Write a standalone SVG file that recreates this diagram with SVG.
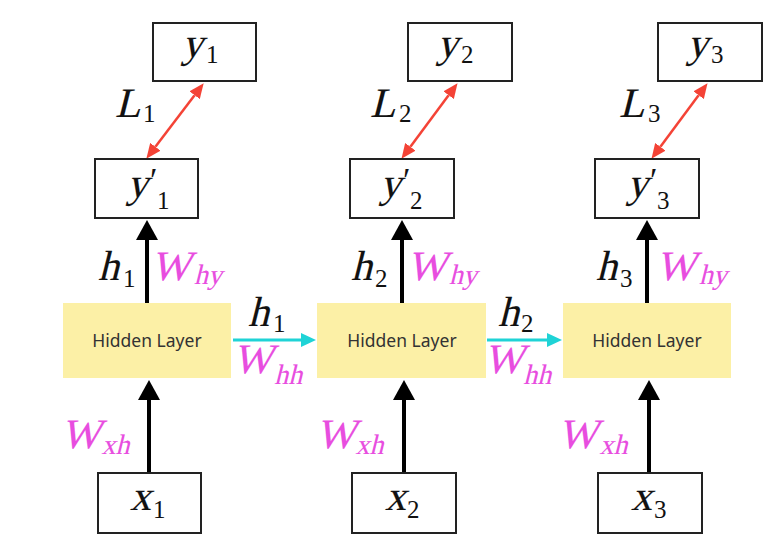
<svg xmlns="http://www.w3.org/2000/svg" width="773" height="551" viewBox="0 0 773 551">
<style>
.box{fill:#fff;stroke:#222;stroke-width:2}
.hid{fill:#fcf0a6}
.ht{font-family:"Noto Sans",sans-serif;font-size:17.5px;fill:#333;text-anchor:middle}
.m{font-family:"Liberation Serif",serif;font-size:42px;fill:#111;stroke:#111;stroke-width:0.15}
.d{font-family:"Liberation Serif",serif;font-size:25px;fill:#111}
.s{font-family:"Liberation Serif",serif;font-size:28px;stroke-width:0.1}
.pr{font-family:"Liberation Serif",serif;font-size:34px;fill:#111}
.pk{fill:#e84ddf;stroke:#e84ddf}
.blk{stroke:#000;stroke-width:4;fill:none;marker-end:url(#hb)}
.cy{stroke:#1fd3d6;stroke-width:3;fill:none;marker-end:url(#hc)}
.rd{stroke:#f44336;stroke-width:2.5;fill:none;marker-start:url(#hr);marker-end:url(#hr)}
</style>
<defs>
<marker id="hb" markerUnits="userSpaceOnUse" markerWidth="20" markerHeight="22" viewBox="0 0 20 22" refX="0" refY="11" orient="auto"><path d="M0,0 L20,11 L0,22 z" fill="#000"/></marker>
<marker id="hc" markerUnits="userSpaceOnUse" markerWidth="15" markerHeight="14" viewBox="0 0 15 14" refX="0" refY="7" orient="auto"><path d="M0,0 L15,7 L0,14 z" fill="#1fd3d6"/></marker>
<marker id="hr" markerUnits="userSpaceOnUse" markerWidth="15" markerHeight="13" viewBox="0 0 15 13" refX="0" refY="6.5" orient="auto-start-reverse"><path d="M0,0 L15,6.5 L0,13 z" fill="#f44336"/></marker>
</defs>

<g id="connectors">
<line class="blk" x1="147" y1="303" x2="147" y2="240"/>
<line class="blk" x1="149" y1="473" x2="149" y2="400"/>
<line class="blk" x1="402" y1="303" x2="402" y2="240"/>
<line class="blk" x1="404" y1="473" x2="404" y2="400"/>
<line class="blk" x1="647" y1="303" x2="647" y2="240"/>
<line class="blk" x1="649" y1="473" x2="649" y2="400"/>
<line class="cy" x1="233" y1="340" x2="301" y2="340"/>
<line class="cy" x1="487" y1="340" x2="547" y2="340"/>
<line class="rd" x1="194.6" y1="95.2" x2="155.4" y2="146.8"/>
<line class="rd" x1="448.6" y1="95.2" x2="410.4" y2="146.8"/>
<line class="rd" x1="698.6" y1="95.2" x2="660.4" y2="146.8"/>
</g>

<g id="y1"><rect class="box" x="153" y="23" width="103" height="58"/><g transform="translate(182,57) skewX(-14)"><text class="m">y</text></g><text class="d" x="206" y="63">1</text></g>
<g id="y2"><rect class="box" x="408" y="23" width="104" height="58"/><g transform="translate(437,57) skewX(-14)"><text class="m">y</text></g><text class="d" x="461" y="63">2</text></g>
<g id="y3"><rect class="box" x="658" y="23" width="104" height="58"/><g transform="translate(687,57) skewX(-14)"><text class="m">y</text></g><text class="d" x="711" y="63">3</text></g>

<g id="yp1"><rect class="box" x="95" y="159" width="103" height="59"/><g transform="translate(127,197) skewX(-14)"><text class="m">y</text></g><text class="pr" x="150" y="191">′</text><text class="d" x="157" y="209">1</text></g>
<g id="yp2"><rect class="box" x="350" y="159" width="104" height="59"/><g transform="translate(380,197) skewX(-14)"><text class="m">y</text></g><text class="pr" x="403" y="191">′</text><text class="d" x="410" y="209">2</text></g>
<g id="yp3"><rect class="box" x="595" y="159" width="104" height="59"/><g transform="translate(627,197) skewX(-14)"><text class="m">y</text></g><text class="pr" x="650" y="191">′</text><text class="d" x="657" y="209">3</text></g>

<g id="L1"><g transform="translate(115,117) skewX(-14)"><text class="m">L</text></g><text class="d" x="143" y="122">1</text></g>
<g id="L2"><g transform="translate(370,117) skewX(-14)"><text class="m">L</text></g><text class="d" x="399" y="122">2</text></g>
<g id="L3"><g transform="translate(619,117) skewX(-14)"><text class="m">L</text></g><text class="d" x="648" y="122">3</text></g>

<g id="h1"><rect class="hid" x="63" y="303" width="168" height="75"/><text class="ht" x="147" y="347">Hidden Layer</text></g>
<g id="h2"><rect class="hid" x="317" y="303" width="169" height="75"/><text class="ht" x="402" y="347">Hidden Layer</text></g>
<g id="h3"><rect class="hid" x="563" y="303" width="168" height="75"/><text class="ht" x="647" y="347">Hidden Layer</text></g>

<g id="x1"><rect class="box" x="98" y="473" width="103" height="60"/><g transform="translate(130,510) skewX(-14)"><text class="m">x</text></g><text class="d" x="153" y="518">1</text></g>
<g id="x2"><rect class="box" x="352" y="473" width="104" height="60"/><g transform="translate(385,510) skewX(-14)"><text class="m">x</text></g><text class="d" x="407" y="518">2</text></g>
<g id="x3"><rect class="box" x="598" y="473" width="104" height="60"/><g transform="translate(631,510) skewX(-14)"><text class="m">x</text></g><text class="d" x="654" y="518">3</text></g>

<g id="labels">
<g transform="translate(98,280) skewX(-14)"><text class="m">h</text></g><text class="d" x="123" y="287">1</text>
<g transform="translate(351,280) skewX(-14)"><text class="m">h</text></g><text class="d" x="375" y="287">2</text>
<g transform="translate(596,280) skewX(-14)"><text class="m">h</text></g><text class="d" x="620" y="287">3</text>
<g transform="translate(151,280) skewX(-14)"><text class="m pk">W</text><text class="s pk" x="44" y="4">hy</text></g>
<g transform="translate(407,280) skewX(-14)"><text class="m pk">W</text><text class="s pk" x="43" y="4">hy</text></g>
<g transform="translate(656,280) skewX(-14)"><text class="m pk">W</text><text class="s pk" x="44" y="4">hy</text></g>
<g transform="translate(248,326) skewX(-14)"><text class="m">h</text></g><text class="d" x="273" y="332">1</text>
<g transform="translate(498,326) skewX(-14)"><text class="m">h</text></g><text class="d" x="521" y="332">2</text>
<g transform="translate(233,373) skewX(-14)"><text class="m pk">W</text><text class="s pk" x="44" y="11">hh</text></g>
<g transform="translate(484,373) skewX(-14)"><text class="m pk">W</text><text class="s pk" x="42" y="11">hh</text></g>
<g transform="translate(61,448) skewX(-14)"><text class="m pk">W</text><text class="s pk" x="42" y="6">xh</text></g>
<g transform="translate(316,448) skewX(-14)"><text class="m pk">W</text><text class="s pk" x="41" y="6">xh</text></g>
<g transform="translate(558,448) skewX(-14)"><text class="m pk">W</text><text class="s pk" x="43" y="6">xh</text></g>
</g>
</svg>
